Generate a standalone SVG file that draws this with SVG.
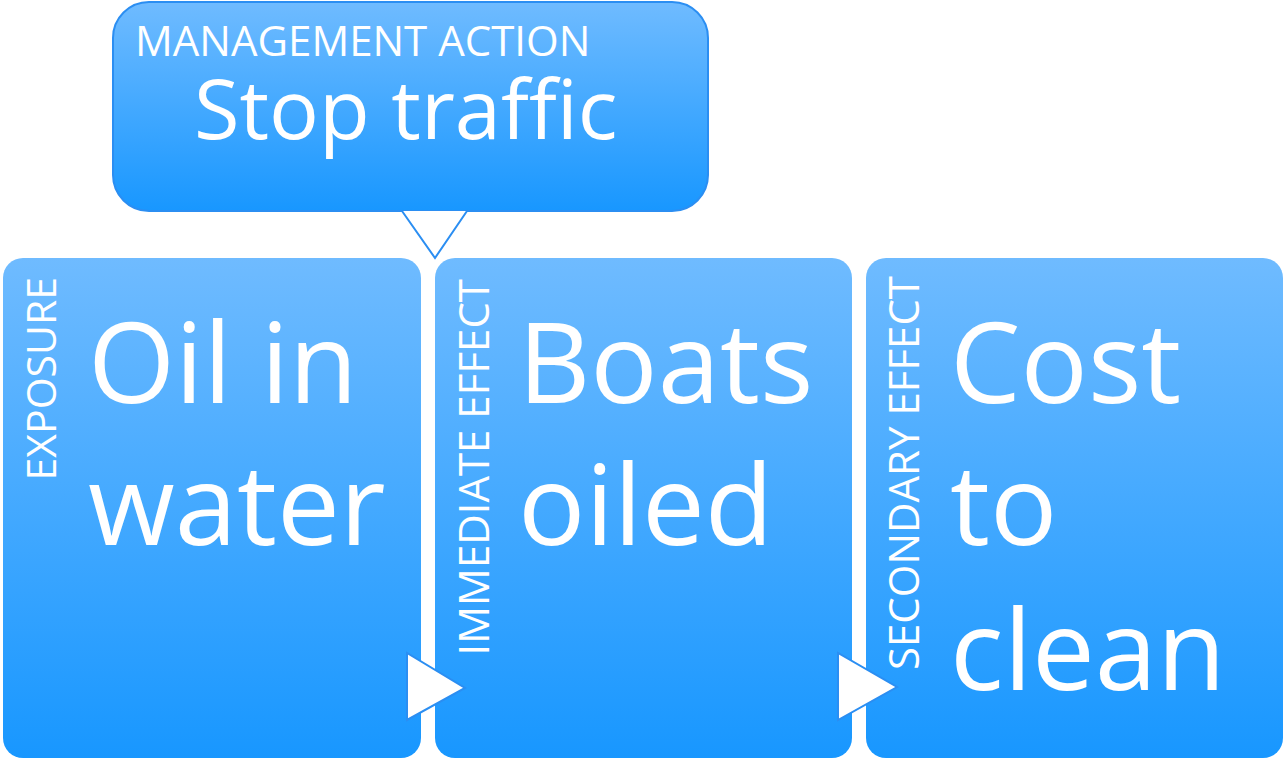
<svg xmlns="http://www.w3.org/2000/svg" width="1283" height="761" viewBox="0 0 1283 761">
<defs>
<linearGradient id="gBox" x1="0" y1="0" x2="0" y2="1">
<stop offset="0" stop-color="#6fbbff"/>
<stop offset="1" stop-color="#1897ff"/>
</linearGradient>
<style>
.box{fill:url(#gBox);}
.call{fill:url(#gBox);stroke:#2b8ef2;stroke-width:2;}
.big{font-family:"Open Sans","Noto Sans",sans-serif;fill:#fff;font-size:112px;}
.lab{font-family:"Open Sans","Noto Sans",sans-serif;fill:#fff;font-size:42px;}
.lab2{font-family:"Open Sans","Noto Sans",sans-serif;fill:#fff;font-size:41px;}
.mid{font-family:"Open Sans","Noto Sans",sans-serif;fill:#fff;font-size:83px;}
.arr{fill:#fff;stroke:#2b8ef2;stroke-width:2;stroke-linejoin:miter;}
</style>
</defs>
<rect width="1283" height="761" fill="#fff"/>
<g id="node-action">
<rect class="call" x="113" y="2" width="595" height="209" rx="36"/>
<text class="lab" x="135" y="56">MANAGEMENT ACTION</text>
<text class="mid" x="194" y="139">Stop traffic</text>
</g>
<g id="node-exposure">
<rect class="box" x="3" y="258" width="418" height="500" rx="20"/>
<text class="lab2" transform="translate(56,277) rotate(-90)" text-anchor="end">EXPOSURE</text>
<text class="big" x="88" y="403">Oil in</text>
<text class="big" x="88" y="545">water</text>
</g>
<g id="node-immediate">
<rect class="box" x="435" y="258" width="417" height="500" rx="20"/>
<text class="lab" transform="translate(489,279) rotate(-90)" text-anchor="end">IMMEDIATE EFFECT</text>
<text class="big" x="518" y="403">Boats</text>
<text class="big" x="518" y="545">oiled</text>
</g>
<g id="node-secondary">
<rect class="box" x="866" y="258" width="417" height="500" rx="20"/>
<text class="lab" transform="translate(919,276) rotate(-90)" text-anchor="end">SECONDARY EFFECT</text>
<text class="big" x="950" y="403">Cost</text>
<text class="big" x="950" y="545">to</text>
<text class="big" x="950" y="690">clean</text>
</g>
<g id="connectors">
<polyline points="402,211 435,258 467,211" fill="#fff" stroke="#2b8ef2" stroke-width="2"/>
<polygon class="arr" points="407,653 407,720 465,688"/>
<polygon class="arr" points="838,653 838,720 897,687"/>
</g>
</svg>
